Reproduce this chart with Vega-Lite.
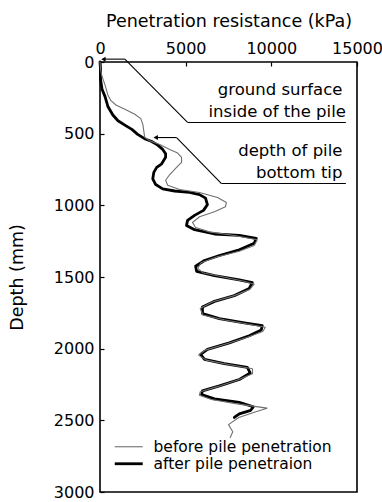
{
  "$schema": "https://vega.github.io/schema/vega-lite/v6.json",
  "width": 257,
  "height": 430,
  "autosize": {"type": "none"},
  "padding": {"left": 100, "top": 62, "right": 25, "bottom": 10},
  "background": "#ffffff",
  "config": {
    "font": "DejaVu Sans",
    "view": {"stroke": "#000000", "strokeWidth": 1.6},
    "axis": {
      "domain": false,
      "grid": false,
      "tickColor": "#000000",
      "tickSize": -4,
      "tickWidth": 1.2,
      "labelColor": "#000000",
      "labelFont": "DejaVu Sans",
      "labelFontSize": 16,
      "titleColor": "#000000",
      "titleFont": "DejaVu Sans",
      "titleFontSize": 17.5,
      "titleFontWeight": "normal"
    },
    "legend": {
      "symbolType": "M-3,0H3",
      "symbolSize": 87,
      "labelFontSize": 15.5,
      "labelFont": "DejaVu Sans",
      "labelColor": "#000000",
      "labelOffset": 17,
      "labelLimit": 400,
      "rowPadding": -1
    }
  },
  "datasets": {
    "profiles": [
      {"series": "after pile penetraion", "depth": 0, "value": 0},
      {"series": "after pile penetraion", "depth": 50, "value": 30},
      {"series": "after pile penetraion", "depth": 120, "value": 30},
      {"series": "after pile penetraion", "depth": 190, "value": 120},
      {"series": "after pile penetraion", "depth": 240, "value": 290},
      {"series": "after pile penetraion", "depth": 310, "value": 460},
      {"series": "after pile penetraion", "depth": 370, "value": 750},
      {"series": "after pile penetraion", "depth": 410, "value": 1050},
      {"series": "after pile penetraion", "depth": 440, "value": 1450},
      {"series": "after pile penetraion", "depth": 470, "value": 1860},
      {"series": "after pile penetraion", "depth": 505, "value": 2200},
      {"series": "after pile penetraion", "depth": 535, "value": 2600},
      {"series": "after pile penetraion", "depth": 555, "value": 3020},
      {"series": "after pile penetraion", "depth": 580, "value": 3370},
      {"series": "after pile penetraion", "depth": 610, "value": 3660},
      {"series": "after pile penetraion", "depth": 640, "value": 3830},
      {"series": "after pile penetraion", "depth": 665, "value": 3830},
      {"series": "after pile penetraion", "depth": 710, "value": 3600},
      {"series": "after pile penetraion", "depth": 735, "value": 3310},
      {"series": "after pile penetraion", "depth": 770, "value": 3140},
      {"series": "after pile penetraion", "depth": 815, "value": 3080},
      {"series": "after pile penetraion", "depth": 855, "value": 3250},
      {"series": "after pile penetraion", "depth": 885, "value": 3660},
      {"series": "after pile penetraion", "depth": 900, "value": 4360},
      {"series": "after pile penetraion", "depth": 910, "value": 5230},
      {"series": "after pile penetraion", "depth": 925, "value": 5810},
      {"series": "after pile penetraion", "depth": 950, "value": 6160},
      {"series": "after pile penetraion", "depth": 995, "value": 6270},
      {"series": "after pile penetraion", "depth": 1035, "value": 6040},
      {"series": "after pile penetraion", "depth": 1070, "value": 5520},
      {"series": "after pile penetraion", "depth": 1105, "value": 5110},
      {"series": "after pile penetraion", "depth": 1140, "value": 5050},
      {"series": "after pile penetraion", "depth": 1170, "value": 5520},
      {"series": "after pile penetraion", "depth": 1200, "value": 6680},
      {"series": "after pile penetraion", "depth": 1210, "value": 8130},
      {"series": "after pile penetraion", "depth": 1230, "value": 9120},
      {"series": "after pile penetraion", "depth": 1265, "value": 9000},
      {"series": "after pile penetraion", "depth": 1310, "value": 8130},
      {"series": "after pile penetraion", "depth": 1350, "value": 6970},
      {"series": "after pile penetraion", "depth": 1385, "value": 6100},
      {"series": "after pile penetraion", "depth": 1425, "value": 5580},
      {"series": "after pile penetraion", "depth": 1460, "value": 5640},
      {"series": "after pile penetraion", "depth": 1490, "value": 6680},
      {"series": "after pile penetraion", "depth": 1520, "value": 8130},
      {"series": "after pile penetraion", "depth": 1540, "value": 8890},
      {"series": "after pile penetraion", "depth": 1580, "value": 8710},
      {"series": "after pile penetraion", "depth": 1630, "value": 7840},
      {"series": "after pile penetraion", "depth": 1670, "value": 6680},
      {"series": "after pile penetraion", "depth": 1710, "value": 5980},
      {"series": "after pile penetraion", "depth": 1755, "value": 5980},
      {"series": "after pile penetraion", "depth": 1790, "value": 6970},
      {"series": "after pile penetraion", "depth": 1820, "value": 8420},
      {"series": "after pile penetraion", "depth": 1840, "value": 9470},
      {"series": "after pile penetraion", "depth": 1870, "value": 9410},
      {"series": "after pile penetraion", "depth": 1910, "value": 8710},
      {"series": "after pile penetraion", "depth": 1960, "value": 7550},
      {"series": "after pile penetraion", "depth": 2005, "value": 6270},
      {"series": "after pile penetraion", "depth": 2040, "value": 5870},
      {"series": "after pile penetraion", "depth": 2075, "value": 6100},
      {"series": "after pile penetraion", "depth": 2105, "value": 7260},
      {"series": "after pile penetraion", "depth": 2130, "value": 8600},
      {"series": "after pile penetraion", "depth": 2170, "value": 8770},
      {"series": "after pile penetraion", "depth": 2215, "value": 8130},
      {"series": "after pile penetraion", "depth": 2260, "value": 6970},
      {"series": "after pile penetraion", "depth": 2295, "value": 5980},
      {"series": "after pile penetraion", "depth": 2320, "value": 5930},
      {"series": "after pile penetraion", "depth": 2350, "value": 6680},
      {"series": "after pile penetraion", "depth": 2375, "value": 8130},
      {"series": "after pile penetraion", "depth": 2405, "value": 8950},
      {"series": "after pile penetraion", "depth": 2430, "value": 8800},
      {"series": "after pile penetraion", "depth": 2455, "value": 8130},
      {"series": "after pile penetraion", "depth": 2480, "value": 7840},
      {"series": "before pile penetration", "depth": 0, "value": 0},
      {"series": "before pile penetration", "depth": 50, "value": 30},
      {"series": "before pile penetration", "depth": 100, "value": 120},
      {"series": "before pile penetration", "depth": 160, "value": 290},
      {"series": "before pile penetration", "depth": 230, "value": 460},
      {"series": "before pile penetration", "depth": 270, "value": 640},
      {"series": "before pile penetration", "depth": 300, "value": 930},
      {"series": "before pile penetration", "depth": 330, "value": 1450},
      {"series": "before pile penetration", "depth": 365, "value": 2030},
      {"series": "before pile penetration", "depth": 395, "value": 2380},
      {"series": "before pile penetration", "depth": 435, "value": 2500},
      {"series": "before pile penetration", "depth": 485, "value": 2560},
      {"series": "before pile penetration", "depth": 525, "value": 2610},
      {"series": "before pile penetration", "depth": 550, "value": 2900},
      {"series": "before pile penetration", "depth": 575, "value": 3490},
      {"series": "before pile penetration", "depth": 610, "value": 4070},
      {"series": "before pile penetration", "depth": 635, "value": 4530},
      {"series": "before pile penetration", "depth": 665, "value": 4760},
      {"series": "before pile penetration", "depth": 700, "value": 4760},
      {"series": "before pile penetration", "depth": 735, "value": 4470},
      {"series": "before pile penetration", "depth": 785, "value": 4070},
      {"series": "before pile penetration", "depth": 825, "value": 3830},
      {"series": "before pile penetration", "depth": 860, "value": 3950},
      {"series": "before pile penetration", "depth": 890, "value": 4650},
      {"series": "before pile penetration", "depth": 910, "value": 5810},
      {"series": "before pile penetration", "depth": 945, "value": 6860},
      {"series": "before pile penetration", "depth": 980, "value": 7380},
      {"series": "before pile penetration", "depth": 1010, "value": 7320},
      {"series": "before pile penetration", "depth": 1045, "value": 6680},
      {"series": "before pile penetration", "depth": 1080, "value": 5810},
      {"series": "before pile penetration", "depth": 1120, "value": 5400},
      {"series": "before pile penetration", "depth": 1155, "value": 5580},
      {"series": "before pile penetration", "depth": 1185, "value": 6390},
      {"series": "before pile penetration", "depth": 1210, "value": 7840},
      {"series": "before pile penetration", "depth": 1240, "value": 9180},
      {"series": "before pile penetration", "depth": 1280, "value": 9000},
      {"series": "before pile penetration", "depth": 1320, "value": 8130},
      {"series": "before pile penetration", "depth": 1360, "value": 6800},
      {"series": "before pile penetration", "depth": 1400, "value": 5900},
      {"series": "before pile penetration", "depth": 1440, "value": 5700},
      {"series": "before pile penetration", "depth": 1470, "value": 6000},
      {"series": "before pile penetration", "depth": 1500, "value": 7200},
      {"series": "before pile penetration", "depth": 1530, "value": 8400},
      {"series": "before pile penetration", "depth": 1550, "value": 9000},
      {"series": "before pile penetration", "depth": 1585, "value": 8750},
      {"series": "before pile penetration", "depth": 1630, "value": 7840},
      {"series": "before pile penetration", "depth": 1675, "value": 6550},
      {"series": "before pile penetration", "depth": 1720, "value": 5850},
      {"series": "before pile penetration", "depth": 1765, "value": 6000},
      {"series": "before pile penetration", "depth": 1800, "value": 7300},
      {"series": "before pile penetration", "depth": 1830, "value": 8700},
      {"series": "before pile penetration", "depth": 1850, "value": 9650},
      {"series": "before pile penetration", "depth": 1880, "value": 9500},
      {"series": "before pile penetration", "depth": 1920, "value": 8600},
      {"series": "before pile penetration", "depth": 1965, "value": 7400},
      {"series": "before pile penetration", "depth": 2010, "value": 6150},
      {"series": "before pile penetration", "depth": 2045, "value": 5750},
      {"series": "before pile penetration", "depth": 2080, "value": 6200},
      {"series": "before pile penetration", "depth": 2110, "value": 7500},
      {"series": "before pile penetration", "depth": 2140, "value": 8900},
      {"series": "before pile penetration", "depth": 2175, "value": 8900},
      {"series": "before pile penetration", "depth": 2220, "value": 8000},
      {"series": "before pile penetration", "depth": 2265, "value": 6850},
      {"series": "before pile penetration", "depth": 2300, "value": 5850},
      {"series": "before pile penetration", "depth": 2325, "value": 5800},
      {"series": "before pile penetration", "depth": 2355, "value": 6500},
      {"series": "before pile penetration", "depth": 2385, "value": 8000},
      {"series": "before pile penetration", "depth": 2415, "value": 9750},
      {"series": "before pile penetration", "depth": 2440, "value": 9100},
      {"series": "before pile penetration", "depth": 2480, "value": 8100},
      {"series": "before pile penetration", "depth": 2530, "value": 7500},
      {"series": "before pile penetration", "depth": 2580, "value": 7750},
      {"series": "before pile penetration", "depth": 2620, "value": 7600}
    ],
    "leaders": [
      {"v1": 200, "v2": 1450, "d1": -20, "d2": -20},
      {"v1": 1450, "v2": 5110, "d1": -20, "d2": 422},
      {"v1": 5110, "v2": 14350, "d1": 422, "d2": 422},
      {"v1": 3250, "v2": 4470, "d1": 527, "d2": 527},
      {"v1": 4470, "v2": 7090, "d1": 527, "d2": 848},
      {"v1": 7090, "v2": 14350, "d1": 848, "d2": 848}
    ],
    "arrowheads": [
      {"v": 200, "d": -20},
      {"v": 3250, "d": 527}
    ],
    "notes": [
      {"label": "ground surface", "v": 14150, "d": 230},
      {"label": "inside of the pile", "v": 14350, "d": 383},
      {"label": "depth of pile", "v": 14150, "d": 655},
      {"label": "bottom tip", "v": 14150, "d": 810}
    ]
  },
  "layer": [
    {
      "data": {"name": "profiles"},
      "mark": {"type": "line", "strokeJoin": "round", "strokeCap": "round"},
      "encoding": {
        "x": {
          "field": "value",
          "type": "quantitative",
          "scale": {"domain": [0, 15000], "nice": false},
          "axis": {
            "orient": "top",
            "title": "Penetration resistance (kPa)",
            "values": [0, 5000, 10000, 15000],
            "format": "d",
            "labelPadding": 10,
            "titlePadding": 10,
            "labelFlush": false
          }
        },
        "y": {
          "field": "depth",
          "type": "quantitative",
          "scale": {"domain": [0, 3000], "reverse": true, "nice": false},
          "axis": {
            "title": "Depth (mm)",
            "values": [0, 500, 1000, 1500, 2000, 2500, 3000],
            "format": "d",
            "labelPadding": 10,
            "titlePadding": 27,
            "labelFlush": false
          }
        },
        "order": {"field": "depth", "type": "quantitative"},
        "color": {
          "field": "series",
          "type": "nominal",
          "scale": {"domain": ["before pile penetration", "after pile penetraion"], "range": ["#707070", "#000000"]},
          "legend": {"title": null, "orient": "none", "legendX": 21, "legendY": 377}
        },
        "strokeWidth": {
          "field": "series",
          "type": "nominal",
          "scale": {"domain": ["before pile penetration", "after pile penetraion"], "range": [1.1, 2.8]},
          "legend": {"title": null, "orient": "none", "legendX": 21, "legendY": 377}
        }
      }
    },
    {
      "data": {"name": "leaders"},
      "mark": {"type": "rule", "color": "#000000", "strokeWidth": 1.1},
      "encoding": {
        "x": {"field": "v1", "type": "quantitative"},
        "x2": {"field": "v2"},
        "y": {"field": "d1", "type": "quantitative"},
        "y2": {"field": "d2"}
      }
    },
    {
      "data": {"name": "arrowheads"},
      "mark": {"type": "point", "shape": "triangle-left", "filled": true, "color": "#000000", "size": 25, "opacity": 1},
      "encoding": {
        "x": {"field": "v", "type": "quantitative"},
        "y": {"field": "d", "type": "quantitative"}
      }
    },
    {
      "data": {"name": "notes"},
      "mark": {"type": "text", "align": "right", "baseline": "alphabetic", "fontSize": 16.5, "font": "DejaVu Sans", "color": "#000000"},
      "encoding": {
        "x": {"field": "v", "type": "quantitative"},
        "y": {"field": "d", "type": "quantitative"},
        "text": {"field": "label"}
      }
    }
  ]
}
